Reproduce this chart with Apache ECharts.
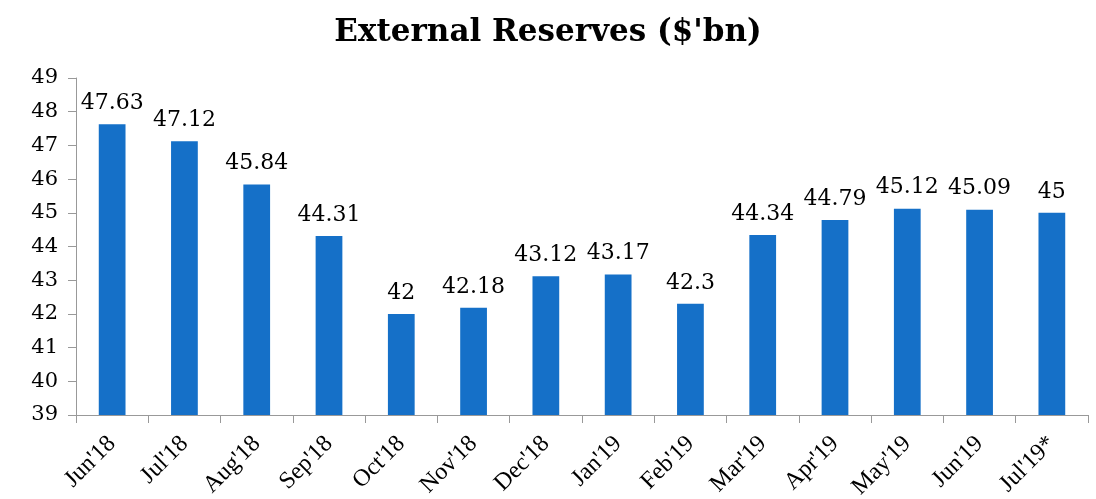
<!DOCTYPE html>
<html>
<head>
<meta charset="utf-8">
<script src="https://cdn.jsdelivr.net/npm/echarts@6/dist/echarts.min.js"></script>
<style>
  html, body { margin: 0; padding: 0; background: #fff; }
  #chartBox { width: 1096px; height: 499px; }
</style>
</head>
<body>
<div id="chartBox"></div>
<script>
// 外汇储备数据
const categories = ["Jun'18", "Jul'18", "Aug'18", "Sep'18", "Oct'18", "Nov'18", "Dec'18",
  "Jan'19", "Feb'19", "Mar'19", "Apr'19", "May'19", "Jun'19", "Jul'19*"]
const reserves = [47.63, 47.12, 45.84, 44.31, 42, 42.18, 43.12, 43.17, 42.3, 44.34, 44.79, 45.12, 45.09, 45]
const yMin = 39
const yMax = 49

const font = 'DejaVu Serif'
const chart = echarts.init(document.getElementById('chartBox'))
chart.setOption({
  animation: false,
  title: {
    text: "External Reserves ($'bn)",
    left: 'center',
    top: 12,
    textStyle: { fontFamily: font, fontSize: 31, fontWeight: 'bold', color: '#000' }
  },
  grid: { left: 76, right: 8, top: 78, bottom: 84, outerBoundsMode: 'none' },
  xAxis: {
    type: 'category',
    data: categories,
    axisLine: { lineStyle: { color: '#999' } },
    axisTick: { show: true, length: 8, alignWithLabel: false, lineStyle: { color: '#999' } },
    axisLabel: { rotate: 45, margin: 25, fontFamily: 'Liberation Serif', fontSize: 24, color: '#000' }
  },
  yAxis: {
    type: 'value',
    min: yMin,
    max: yMax,
    interval: 1,
    axisLine: { show: true, lineStyle: { color: '#999' } },
    axisTick: { show: true, length: 8, lineStyle: { color: '#999' } },
    splitLine: { show: false },
    axisLabel: { margin: 18, fontFamily: font, fontSize: 21, color: '#000' }
  },
  series: [{
    type: 'bar',
    data: reserves,
    barWidth: '37%',
    itemStyle: { color: '#1570c8' },
    label: {
      show: true,
      position: 'top',
      distance: 10,
      fontFamily: font,
      fontSize: 22,
      color: '#000'
    }
  }]
})
</script>
</body>
</html>
